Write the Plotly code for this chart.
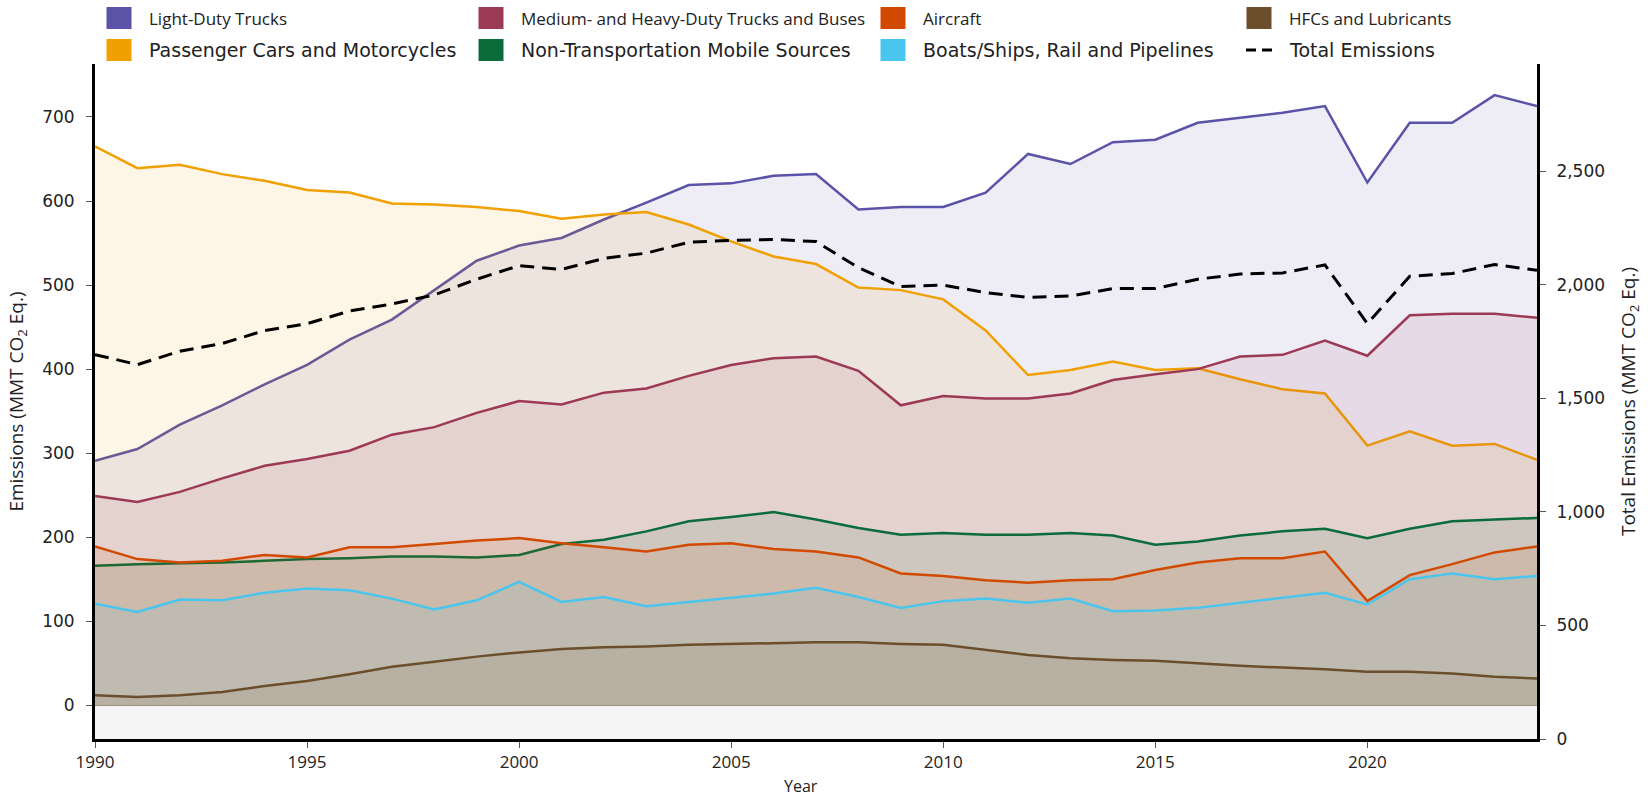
import plotly.graph_objects as go

years = list(range(1990, 2025))

light_duty_trucks = [291, 305, 334, 357, 382, 405, 435, 459, 494, 529, 547, 556, 578, 598, 619, 621, 630, 632,
                     590, 593, 593, 610, 656, 644, 670, 673, 693, 699, 705, 713, 622, 693, 693, 726, 713]
passenger_cars = [665, 639, 643, 632, 624, 613, 610, 597, 596, 593, 588, 579, 584, 587, 572, 552, 534, 525,
                  497, 494, 483, 446, 393, 399, 409, 399, 401, 388, 376, 371, 309, 326, 309, 311, 292]
medium_heavy = [249, 242, 254, 270, 285, 293, 303, 322, 331, 348, 362, 358, 372, 377, 392, 405, 413, 415,
                398, 357, 368, 365, 365, 371, 387, 394, 400, 415, 417, 434, 416, 464, 466, 466, 461]
aircraft = [189, 174, 170, 172, 179, 176, 188, 188, 192, 196, 199, 193, 188, 183, 191, 193, 186, 183,
            176, 157, 154, 149, 146, 149, 150, 161, 170, 175, 175, 183, 124, 155, 168, 182, 189]
non_transport = [166, 168, 169, 170, 172, 174, 175, 177, 177, 176, 179, 192, 197, 207, 219, 224, 230, 221,
                 211, 203, 205, 203, 203, 205, 202, 191, 195, 202, 207, 210, 199, 210, 219, 221, 223]
boats_rail = [121, 111, 126, 125, 134, 139, 137, 127, 114, 125, 147, 123, 129, 118, 123, 128, 133, 140,
              129, 116, 124, 127, 122, 127, 112, 113, 116, 122, 128, 134, 120, 150, 157, 150, 154]
hfcs = [12, 10, 12, 16, 23, 29, 37, 46, 52, 58, 63, 67, 69, 70, 72, 73, 74, 75,
        75, 73, 72, 66, 60, 56, 54, 53, 50, 47, 45, 43, 40, 40, 38, 34, 32]
total_emissions = [1693, 1649, 1708, 1742, 1799, 1829, 1885, 1916, 1956, 2025, 2085, 2068, 2117, 2140, 2188,
                   2196, 2200, 2191, 2076, 1993, 1999, 1966, 1945, 1951, 1984, 1984, 2025, 2048, 2053, 2088,
                   1830, 2038, 2050, 2090, 2064]

left_ticks = [0, 100, 200, 300, 400, 500, 600, 700]
right_ticks = [0, 500, 1000, 1500, 2000, 2500]
x_ticks = [1990, 1995, 2000, 2005, 2010, 2015, 2020]

series = [
    ("Light-Duty Trucks", light_duty_trucks, (91, 83, 168)),
    ("Passenger Cars and Motorcycles", passenger_cars, (240, 160, 0)),
    ("Medium- and Heavy-Duty Trucks and Buses", medium_heavy, (156, 57, 85)),
    ("Non-Transportation Mobile Sources", non_transport, (11, 107, 58)),
    ("Aircraft", aircraft, (210, 74, 0)),
    ("Boats/Ships, Rail and Pipelines", boats_rail, (74, 198, 238)),
    ("HFCs and Lubricants", hfcs, (107, 79, 44)),
]

FONT = "Open Sans"
WIDE = "DejaVu Sans"
W, H = 1648, 801
ML, MR, MT, MB = 95, 111, 64, 62
PW, PH = W - ML - MR, H - MT - MB


def px(x):
    return (x - ML) / PW


def py(y):
    return (H - MB - y) / PH


fig = go.Figure()

for name, vals, rgb in series:
    r, g, b = rgb
    fig.add_trace(go.Scatter(
        x=years, y=vals, name=name, mode="lines", fill="tozeroy",
        fillcolor=f"rgba({r},{g},{b},0.1)",
        line=dict(color=f"rgb({r},{g},{b})", width=2.5),
        showlegend=False, yaxis="y", hoverinfo="skip"))

fig.add_trace(go.Scatter(
    x=years, y=total_emissions, name="Total Emissions", mode="lines",
    line=dict(color="black", width=3, dash="14px,8px"),
    showlegend=False, yaxis="y2", hoverinfo="skip"))

# below-zero band
fig.add_shape(type="rect", xref="x", yref="y", x0=1990, x1=2024, y0=-40, y1=0,
              fillcolor="#f5f5f5", line=dict(width=0), layer="below")

# manual legend (row 1 narrower type, row 2 wider type as in the source)
legend_items = [
    ("Light-Duty Trucks", "#5b53a8", 119, 18, FONT, 17),
    ("Medium- and Heavy-Duty Trucks and Buses", "#9c3955", 491, 18, FONT, 17),
    ("Aircraft", "#d24a00", 893, 18, FONT, 17),
    ("HFCs and Lubricants", "#6b4f2c", 1259, 18, FONT, 17),
    ("Passenger Cars and Motorcycles", "#f0a000", 119, 50, WIDE, 19),
    ("Non-Transportation Mobile Sources", "#0b6b3a", 491, 50, WIDE, 19),
    ("Boats/Ships, Rail and Pipelines", "#4ac6ee", 893, 50, WIDE, 19),
    ("Total Emissions", None, 1259, 50, WIDE, 19),
]
for label, col, cx, cy, fam, fs in legend_items:
    if col is not None:
        fig.add_shape(type="rect", xref="paper", yref="paper",
                      x0=px(cx - 12.5), x1=px(cx + 12.5), y0=py(cy + 11), y1=py(cy - 11),
                      fillcolor=col, line=dict(width=0))
    else:
        for d0, d1 in [(-13, -3), (3, 13)]:
            fig.add_shape(type="line", xref="paper", yref="paper",
                          x0=px(cx + d0), x1=px(cx + d1), y0=py(cy), y1=py(cy),
                          line=dict(color="black", width=3))
    fig.add_annotation(xref="paper", yref="paper", x=px(cx + 28), y=py(cy),
                       text=label, showarrow=False, xanchor="left", yanchor="middle",
                       font=dict(family=fam, size=fs, color="#222"))

# x-axis title
fig.add_annotation(xref="paper", yref="paper", x=px(801), y=py(786),
                   text="Year", showarrow=False, xanchor="center", yanchor="middle",
                   font=dict(family=FONT, size=16, color="#222"))

fig.update_layout(
    width=W, height=H,
    margin=dict(l=ML, r=MR, t=MT, b=MB, autoexpand=False),
    paper_bgcolor="white", plot_bgcolor="white",
    font=dict(family=FONT, size=16, color="#222"),
    showlegend=False,
    xaxis=dict(range=[1990, 2024], tickvals=x_ticks, showgrid=False, zeroline=False,
               showline=True, linecolor="black", linewidth=3, ticks="outside",
               ticklen=6, tickcolor="#555", ticklabelstandoff=0, automargin=False,
               tickfont=dict(family=FONT, size=17)),
    yaxis=dict(range=[-40, 763], tickvals=left_ticks, showgrid=False,
               zeroline=True, zerolinecolor="#aca596", zerolinewidth=1,
               showline=True, linecolor="black", linewidth=3, ticks="outside",
               ticklen=6, tickcolor="#555", ticklabelstandoff=8, automargin=False,
               tickfont=dict(family=WIDE, size=17),
               title=dict(text="Emissions (MMT CO<sub>2</sub> Eq.)",
                          font=dict(family=FONT, size=19), standoff=14)),
    yaxis2=dict(range=[0, 2973], tickvals=right_ticks, tickformat=",d", overlaying="y",
                side="right", showgrid=False, zeroline=False,
                showline=True, linecolor="black", linewidth=3, ticks="outside",
                ticklen=6, tickcolor="#555", ticklabelstandoff=7, automargin=False,
                tickfont=dict(family=WIDE, size=17),
                title=dict(text="Total Emissions (MMT CO<sub>2</sub> Eq.)",
                           font=dict(family=FONT, size=19), standoff=18)),
)

fig.write_html("out.html", config={"displayModeBar": False},
               post_script="document.body.style.margin='0';")
